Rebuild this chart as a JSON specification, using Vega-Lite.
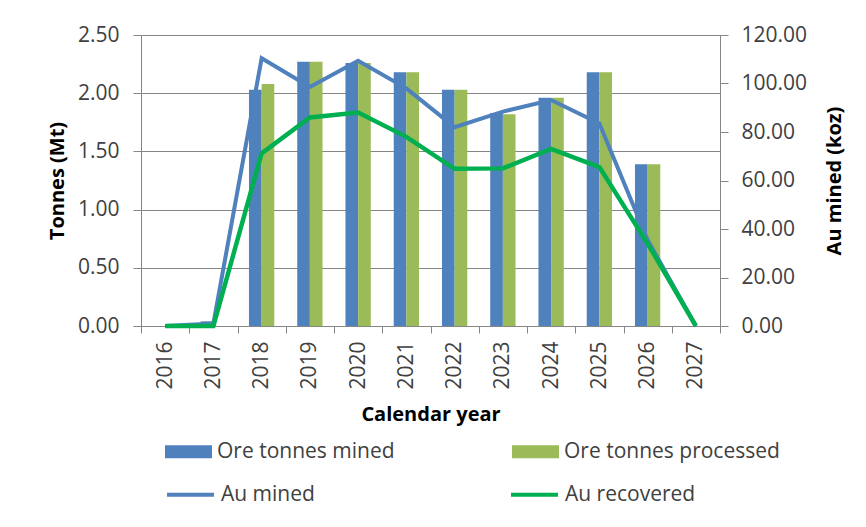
{
  "$schema": "https://vega.github.io/schema/vega-lite/v6.json",
  "width": 579,
  "height": 291,
  "autosize": "none",
  "padding": {"left": 141, "top": 35, "right": 146, "bottom": 201},
  "background": "white",
  "config": {
    "view": {"stroke": null},
    "font": "Open Sans",
    "axis": {"domainColor": "#868686", "tickColor": "#868686", "gridColor": "#868686", "labelColor": "#404040", "titleColor": "#000000", "labelFont": "Open Sans", "titleFont": "Open Sans"},
    "legend": {"labelFont": "Open Sans", "labelColor": "#404040", "labelLimit": 400}
  },
  "datasets": {
    "bars": [
      {"year": "2016", "series": "Ore tonnes mined", "value": 0},
      {"year": "2016", "series": "Ore tonnes processed", "value": 0},
      {"year": "2017", "series": "Ore tonnes mined", "value": 0.04},
      {"year": "2017", "series": "Ore tonnes processed", "value": 0},
      {"year": "2018", "series": "Ore tonnes mined", "value": 2.03},
      {"year": "2018", "series": "Ore tonnes processed", "value": 2.08},
      {"year": "2019", "series": "Ore tonnes mined", "value": 2.27},
      {"year": "2019", "series": "Ore tonnes processed", "value": 2.27},
      {"year": "2020", "series": "Ore tonnes mined", "value": 2.26},
      {"year": "2020", "series": "Ore tonnes processed", "value": 2.26},
      {"year": "2021", "series": "Ore tonnes mined", "value": 2.18},
      {"year": "2021", "series": "Ore tonnes processed", "value": 2.18},
      {"year": "2022", "series": "Ore tonnes mined", "value": 2.03},
      {"year": "2022", "series": "Ore tonnes processed", "value": 2.03},
      {"year": "2023", "series": "Ore tonnes mined", "value": 1.83},
      {"year": "2023", "series": "Ore tonnes processed", "value": 1.82},
      {"year": "2024", "series": "Ore tonnes mined", "value": 1.96},
      {"year": "2024", "series": "Ore tonnes processed", "value": 1.96},
      {"year": "2025", "series": "Ore tonnes mined", "value": 2.18},
      {"year": "2025", "series": "Ore tonnes processed", "value": 2.18},
      {"year": "2026", "series": "Ore tonnes mined", "value": 1.39},
      {"year": "2026", "series": "Ore tonnes processed", "value": 1.39},
      {"year": "2027", "series": "Ore tonnes mined", "value": 0},
      {"year": "2027", "series": "Ore tonnes processed", "value": 0}
    ],
    "lines": [
      {"year": "2016", "series": "Au mined", "value": 0},
      {"year": "2017", "series": "Au mined", "value": 1},
      {"year": "2018", "series": "Au mined", "value": 110.4},
      {"year": "2019", "series": "Au mined", "value": 98.6},
      {"year": "2020", "series": "Au mined", "value": 109.4},
      {"year": "2021", "series": "Au mined", "value": 98},
      {"year": "2022", "series": "Au mined", "value": 82},
      {"year": "2023", "series": "Au mined", "value": 88.4},
      {"year": "2024", "series": "Au mined", "value": 93.2},
      {"year": "2025", "series": "Au mined", "value": 83.5},
      {"year": "2026", "series": "Au mined", "value": 35.5},
      {"year": "2027", "series": "Au mined", "value": 0},
      {"year": "2016", "series": "Au recovered", "value": 0},
      {"year": "2017", "series": "Au recovered", "value": 0},
      {"year": "2018", "series": "Au recovered", "value": 71.2},
      {"year": "2019", "series": "Au recovered", "value": 86},
      {"year": "2020", "series": "Au recovered", "value": 88},
      {"year": "2021", "series": "Au recovered", "value": 78},
      {"year": "2022", "series": "Au recovered", "value": 64.8},
      {"year": "2023", "series": "Au recovered", "value": 65},
      {"year": "2024", "series": "Au recovered", "value": 73},
      {"year": "2025", "series": "Au recovered", "value": 65.5},
      {"year": "2026", "series": "Au recovered", "value": 34},
      {"year": "2027", "series": "Au recovered", "value": 0}
    ]
  },
  "layer": [
    {
      "data": {"name": "bars"},
      "mark": {"type": "bar"},
      "encoding": {
        "x": {
          "field": "year", "type": "ordinal",
          "scale": {"paddingInner": 0, "paddingOuter": 0},
          "axis": {
            "tickBand": "extent", "labelAngle": -90, "labelFontSize": 21, "labelPadding": 8,
            "tickSize": 7, "title": "Calendar year", "titleFontSize": 20, "titleFontWeight": "bold",
            "titleY": 88, "titleX": 289.5, "titleBaseline": "middle"
          }
        },
        "xOffset": {
          "field": "series", "type": "nominal",
          "scale": {"domain": ["Ore tonnes mined", "Ore tonnes processed"], "paddingInner": 0, "paddingOuter": 0.907}
        },
        "y": {
          "field": "value", "type": "quantitative",
          "scale": {"domain": [0, 2.5], "nice": false},
          "axis": {
            "orient": "left", "values": [0, 0.5, 1, 1.5, 2, 2.5], "format": ".2f", "grid": true,
            "tickSize": 8, "labelFontSize": 21, "labelPadding": 14,
            "title": "Tonnes (Mt)", "titleFontSize": 20, "titleFontWeight": "bold",
            "titleAngle": -90, "titleBaseline": "middle", "titleX": -84, "titleY": 145.5
          }
        },
        "fill": {
          "field": "series", "type": "nominal",
          "scale": {"domain": ["Ore tonnes mined", "Ore tonnes processed"], "range": ["#4F81BD", "#9BBB59"]},
          "legend": {
            "orient": "none", "legendX": 24, "legendY": 393, "direction": "horizontal", "columns": 2,
            "columnPadding": 117, "title": null, "symbolType": "M-1,-0.28L1,-0.28L1,0.28L-1,0.28Z",
            "symbolSize": 2209, "symbolStrokeWidth": 0, "labelFontSize": 21, "labelOffset": 5
          }
        }
      }
    },
    {
      "data": {"name": "lines"},
      "encoding": {
        "x": {"field": "year", "type": "ordinal"},
        "y": {
          "field": "value", "type": "quantitative",
          "scale": {"domain": [0, 120], "nice": false},
          "axis": {
            "orient": "right", "values": [0, 20, 40, 60, 80, 100, 120], "format": ".2f", "grid": false,
            "tickSize": 8, "labelFontSize": 21, "labelPadding": 13,
            "title": "Au mined (koz)", "titleFontSize": 20, "titleFontWeight": "bold",
            "titleAngle": -90, "titleBaseline": "middle", "titleX": 114, "titleY": 145.5
          }
        },
        "stroke": {
          "field": "series", "type": "nominal",
          "scale": {"domain": ["Au mined", "Au recovered"], "range": ["#4F81BD", "#00B050"]},
          "legend": {
            "orient": "none", "legendX": 24, "legendY": 434, "direction": "horizontal", "columns": 2,
            "columnPadding": 188, "title": null, "symbolType": "stroke",
            "symbolSize": 2209, "symbolStrokeWidth": 4, "labelFontSize": 21, "labelOffset": 5
          }
        }
      },
      "layer": [
        {
          "transform": [{"filter": "datum.series === 'Au mined'"}],
          "mark": {"type": "line", "strokeWidth": 4}
        },
        {
          "transform": [{"filter": "datum.series === 'Au recovered'"}],
          "mark": {"type": "line", "strokeWidth": 4.5}
        }
      ]
    }
  ],
  "resolve": {"scale": {"y": "independent"}}
}
